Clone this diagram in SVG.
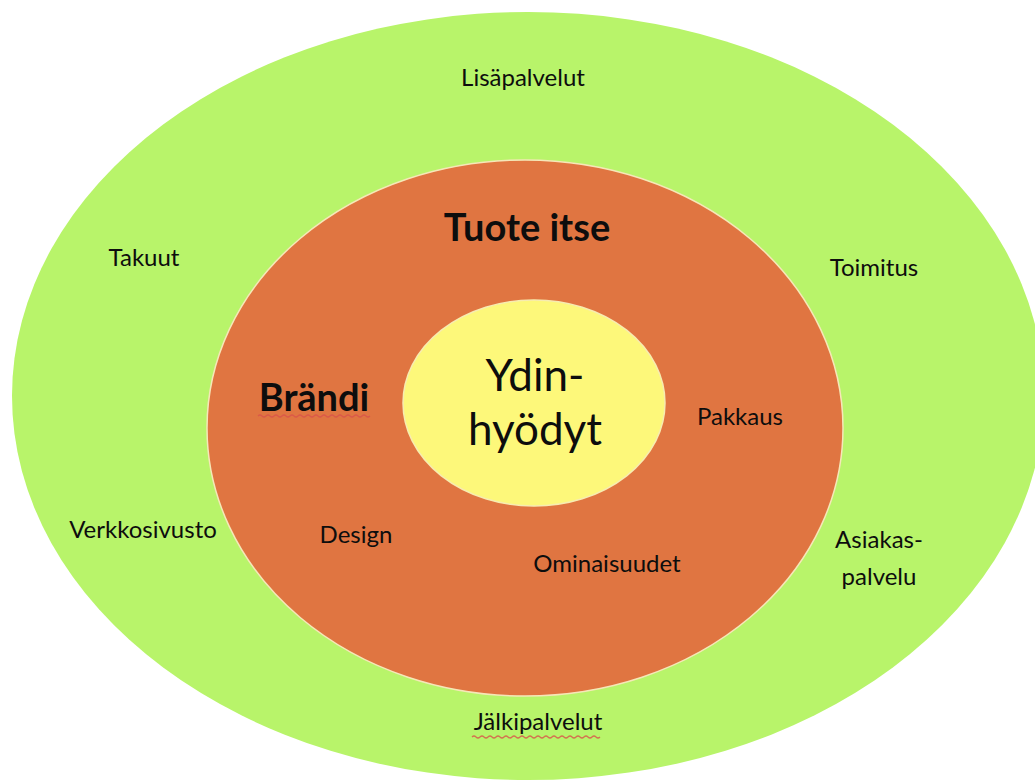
<svg xmlns="http://www.w3.org/2000/svg" width="1035" height="783" viewBox="0 0 1035 783">
  <style>
    .lbl { font-family: Lato, "Open Sans", "Liberation Sans", sans-serif; fill: #0d0d0d; text-anchor: middle; }
    .small { font-size: 24px; }
    .big { font-size: 38px; font-weight: 700; }
    .core { font-size: 44px; }
    .squiggle { fill: none; stroke: #d9534a; stroke-width: 1.2; opacity: 0.8; }
  </style>
  <rect width="1035" height="783" fill="#ffffff"/>

  <g id="ring-outer">
    <ellipse cx="528" cy="396" rx="516" ry="384" fill="#b8f46a"/>
    <text class="lbl small" x="523" y="86">Lisäpalvelut</text>
    <text class="lbl small" x="144" y="266">Takuut</text>
    <text class="lbl small" x="874" y="276">Toimitus</text>
    <text class="lbl small" x="143" y="538">Verkkosivusto</text>
    <text class="lbl small" x="879" y="548">Asiakas-</text>
    <text class="lbl small" x="879" y="585">palvelu</text>
    <text class="lbl small" x="538" y="730">Jälkipalvelut</text>
    <path class="squiggle" d="M472 737 q2 -2 4 0 t4 0 t4 0 t4 0 t4 0 t4 0 t4 0 t4 0 t4 0 t4 0 t4 0 t4 0 t4 0 t4 0 t4 0 t4 0 t4 0 t4 0 t4 0 t4 0 t4 0 t4 0 t4 0 t4 0 t4 0 t4 0 t4 0 t4 0 t4 0 t4 0 t4 0 t4 0"/>
  </g>

  <g id="ring-product">
    <ellipse cx="525" cy="428" rx="318" ry="268" fill="#e07541" stroke="#f6e7b8" stroke-width="1.5"/>
    <text class="lbl big" x="527" y="241">Tuote itse</text>
    <text class="lbl big" x="314" y="411">Brändi</text>
    <path class="squiggle" d="M258 416 q2 -2 4 0 t4 0 t4 0 t4 0 t4 0 t4 0 t4 0 t4 0 t4 0 t4 0 t4 0 t4 0 t4 0 t4 0 t4 0 t4 0 t4 0 t4 0 t4 0 t4 0 t4 0 t4 0 t4 0 t4 0 t4 0 t4 0 t4 0 t4 0" stroke="#f3e9e0"/>
    <text class="lbl small" x="740" y="425">Pakkaus</text>
    <text class="lbl small" x="356" y="543">Design</text>
    <text class="lbl small" x="607" y="572">Ominaisuudet</text>
  </g>

  <g id="core">
    <ellipse cx="534" cy="403" rx="131" ry="103" fill="#fdf87a" stroke="#f7ecb0" stroke-width="1.5"/>
    <text class="lbl core" x="535" y="391">Ydin-</text>
    <text class="lbl core" x="535" y="445">hyödyt</text>
  </g>
</svg>
